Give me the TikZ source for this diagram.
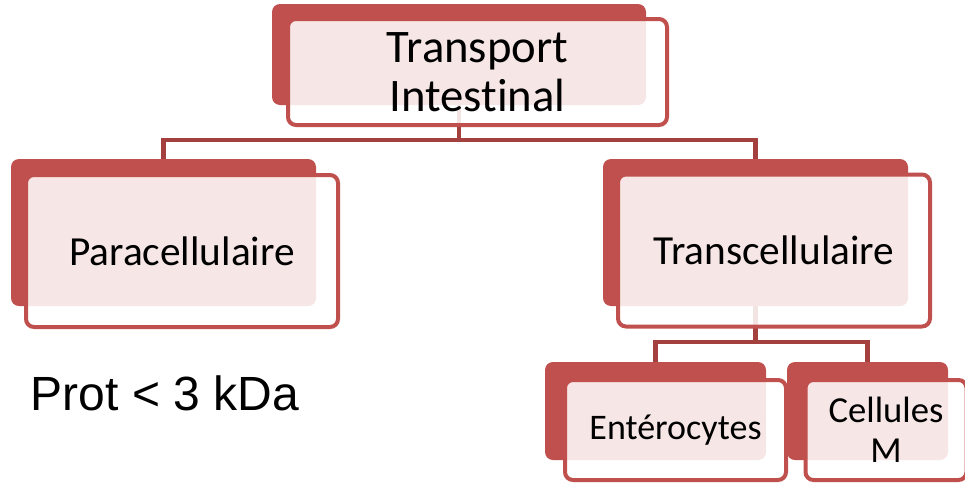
\documentclass[tikz,border=0pt]{standalone}
\usepackage{fontspec}
\setmainfont{Carlito}[Ligatures=NoCommon]
\newfontfamily\arialfont{Liberation Sans}
\usepackage{xcolor}
\usepackage{tikz}
\usetikzlibrary{backgrounds}

\definecolor{boxred}{HTML}{C0504D}
\definecolor{linkred}{HTML}{A4413F}

\begin{document}
\begin{tikzpicture}[x=0.75pt,y=-0.75pt]
      \tikzstyle{back}=[fill=boxred,draw=none,rounded corners=6pt,inner sep=0pt,outer sep=0pt]
      \tikzstyle{front}=[draw=boxred,line width=3pt,fill=white,fill opacity=0.86,text opacity=1,
                         rounded corners=6pt,inner sep=0pt,outer sep=0pt,align=center]
      \tikzstyle{link}=[draw=linkred,line width=3.6pt]

      \useasboundingbox (0,0) rectangle (965,486);

      % top level
      \node [back,minimum width=280.5pt,minimum height=75.75pt] (top_b) at (459,54.5) {};
      \node [front,minimum width=284.25pt,minimum height=79.5pt,
             font=\fontsize{35}{36.75}\selectfont] (top_f) at (477.5,72) {Transport\\Intestinal};

      % second level
      \node [back,minimum width=228.75pt,minimum height=110.25pt] (para_b) at (163.5,232.5) {};
      \node [front,minimum width=234pt,minimum height=114pt,
             font=\fontsize{31}{34}\selectfont] (para_f) at (182,251) {Paracellulaire};

      \node [back,minimum width=228.75pt,minimum height=110.25pt] (trans_b) at (755.5,232.5) {};
      \node [front,minimum width=234pt,minimum height=114pt,
             font=\fontsize{31}{34}\selectfont] (trans_f) at (774,250.5) {Transcellulaire};

      % third level
      \node [back,minimum width=165.75pt,minimum height=73.5pt] (ent_b) at (655.5,411) {};
      \node [front,minimum width=165.75pt,minimum height=75pt,
             font=\fontsize{27}{30}\selectfont] (ent_f) at (675.5,430) {Entérocytes};

      \node [back,minimum width=120.75pt,minimum height=73.5pt] (cell_b) at (867.5,411) {};
      \node [front,minimum width=120.75pt,minimum height=75pt,
             font=\fontsize{27.5}{30}\selectfont] (cell_f) at (886,430) {Cellules\\M};

      \node [font=\arialfont\fontsize{36}{40}\selectfont] (prot) at (165,393) {Prot < 3 kDa};

      % links behind the boxes
      \begin{scope}[on background layer]
        \draw [link] (top_b.south) -- (top_b.south |- 0,140) -| (para_b.north);
        \draw [link] (top_b.south |- 0,140) -| (trans_b.north);
        \draw [link] (trans_b.south) -- (trans_b.south |- 0,342) -| (ent_b.north);
        \draw [link] (trans_b.south |- 0,342) -| (cell_b.north);
      \end{scope}

    \end{tikzpicture}
\end{document}
